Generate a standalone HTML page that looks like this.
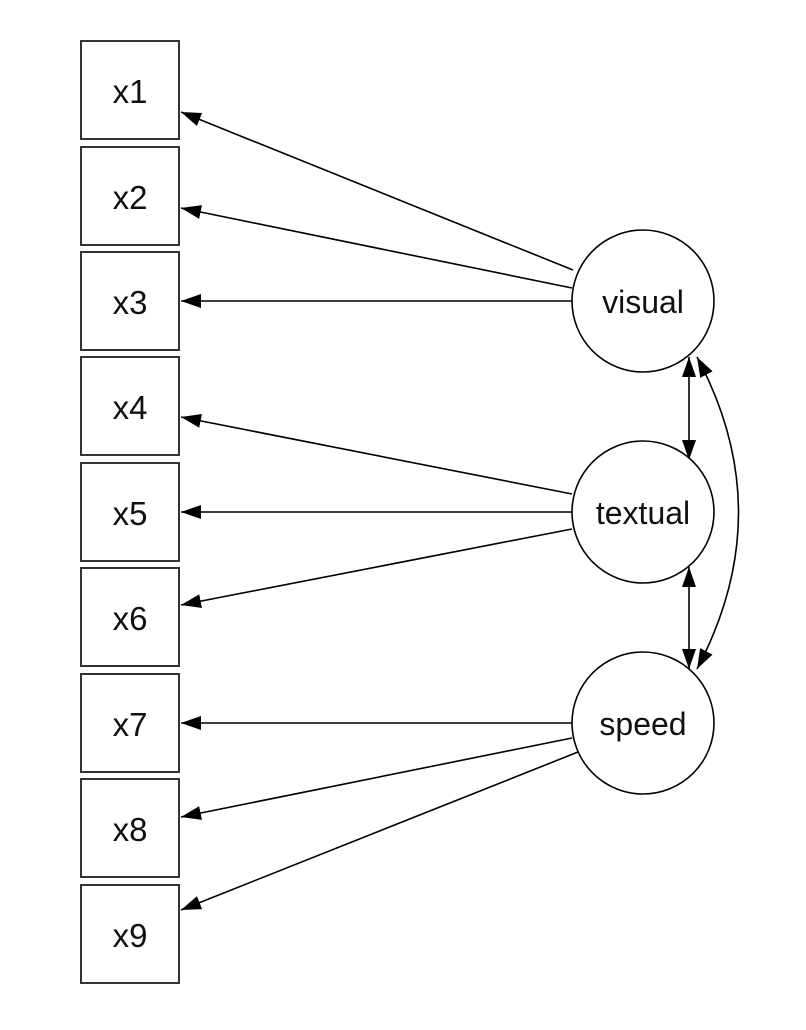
<!DOCTYPE html>
<html><head><meta charset="utf-8"><style>html,body{margin:0;padding:0;background:#fff}</style></head>
<body>
<svg width="806" height="1025" viewBox="0 0 806 1025" xmlns="http://www.w3.org/2000/svg" font-family="Liberation Sans, Arial, sans-serif">
<defs>
<marker id="b" viewBox="0 0 20 14" refX="20" refY="7" markerWidth="20" markerHeight="14" markerUnits="userSpaceOnUse" orient="auto-start-reverse"><path d="M0,0 L20,7 L0,14 z" fill="#000"/></marker>
</defs>
<g fill="#fff" stroke="#333" stroke-width="2">
<rect x="81" y="41" width="98" height="98"/>
<rect x="81" y="147" width="98" height="98"/>
<rect x="81" y="252" width="98" height="98"/>
<rect x="81" y="357" width="98" height="98"/>
<rect x="81" y="463" width="98" height="98"/>
<rect x="81" y="568" width="98" height="98"/>
<rect x="81" y="674" width="98" height="98"/>
<rect x="81" y="779" width="98" height="98"/>
<rect x="81" y="885" width="98" height="98"/>
</g>
<g font-size="33" text-anchor="middle" fill="#111">
<text x="130" y="103">x1</text><text x="130" y="209">x2</text><text x="130" y="314">x3</text>
<text x="130" y="419">x4</text><text x="130" y="525">x5</text><text x="130" y="630">x6</text>
<text x="130" y="736">x7</text><text x="130" y="841">x8</text><text x="130" y="947">x9</text>
</g>
<g stroke="#000" stroke-width="1.6" fill="none">
<line x1="573" y1="270" x2="181" y2="112" marker-end="url(#b)"/>
<line x1="572" y1="288" x2="181" y2="208" marker-end="url(#b)"/>
<line x1="572" y1="301" x2="181" y2="301" marker-end="url(#b)"/>
<line x1="572" y1="494" x2="181" y2="417" marker-end="url(#b)"/>
<line x1="572" y1="512" x2="181" y2="512" marker-end="url(#b)"/>
<line x1="572" y1="529" x2="181" y2="605" marker-end="url(#b)"/>
<line x1="572" y1="723" x2="181" y2="723" marker-end="url(#b)"/>
<line x1="572" y1="738" x2="181" y2="817" marker-end="url(#b)"/>
<line x1="578" y1="752" x2="181" y2="910" marker-end="url(#b)"/>
<line x1="689" y1="357" x2="689" y2="460" marker-start="url(#b)" marker-end="url(#b)"/>
<line x1="689" y1="567" x2="689" y2="669" marker-start="url(#b)" marker-end="url(#b)"/>
<path d="M697,357 Q780,512 697,669" marker-start="url(#b)" marker-end="url(#b)"/>
</g>
<g fill="#fff" stroke="#000" stroke-width="1.6">
<circle cx="643" cy="301" r="71"/>
<circle cx="643" cy="512" r="71"/>
<circle cx="643" cy="723" r="71"/>
</g>
<g font-size="32" text-anchor="middle" fill="#111">
<text x="643" y="313">visual</text><text x="643" y="524">textual</text><text x="643" y="735">speed</text>
</g>
</svg>
</body></html>
